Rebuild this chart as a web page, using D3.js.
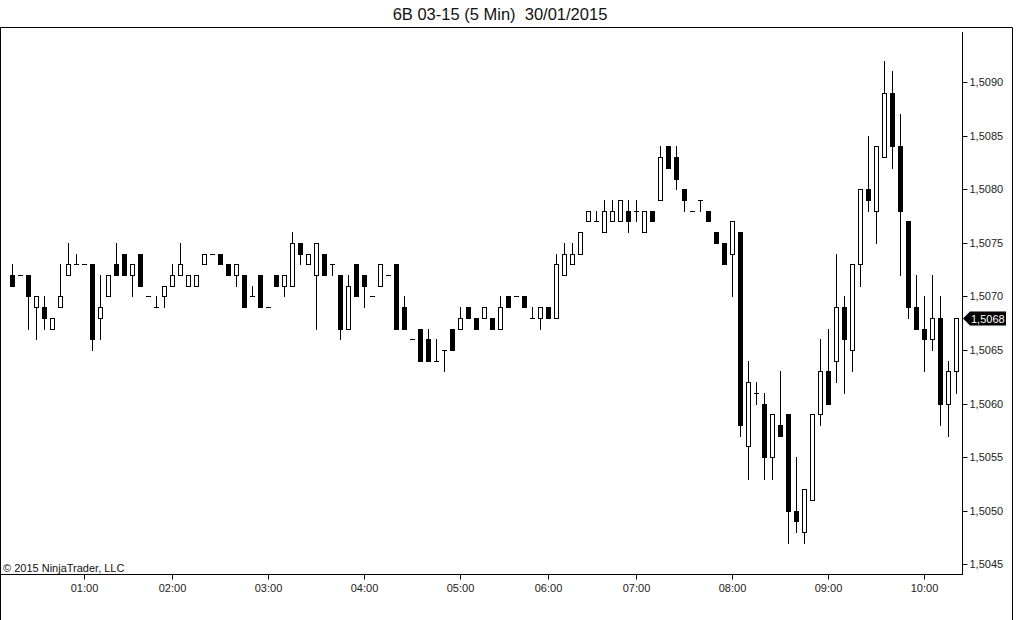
<!DOCTYPE html>
<html>
<head>
<meta charset="utf-8">
<script src="https://cdn.jsdelivr.net/npm/d3@7/dist/d3.min.js"></script>
<style>
html,body{margin:0;padding:0;background:#fff;}
svg{display:block;}
text{font-family:"Liberation Sans",Arial,sans-serif;}
</style>
</head>
<body>
<div id="chart"></div>
<script>
// ---- data ----
const title = "6B 03-15 (5 Min)  30/01/2015";
const copyright = "\u00A9 2015 NinjaTrader, LLC";
const times = [
"00:15","00:20","00:25","00:30","00:35","00:40","00:45","00:50","00:55","01:00",
"01:05","01:10","01:15","01:20","01:25","01:30","01:40","01:45","01:50","01:55","02:00",
"02:05","02:10","02:15","02:20","02:25","02:30","02:35","02:40","02:45","02:50","02:55","03:00",
"03:05","03:10","03:15","03:20","03:25","03:30","03:35","03:40","03:45","03:50","03:55","04:00",
"04:05","04:10","04:15","04:20","04:25","04:30","04:35","04:40","04:45","04:50","04:55","05:00",
"05:05","05:10","05:15","05:20","05:30","05:35","05:40","05:45","05:50","05:55","06:00",
"06:05","06:10","06:15","06:20","06:25","06:30","06:35","06:40","06:45","06:55","07:00",
"07:05","07:10","07:15","07:20","07:25","07:30","07:35","07:40","07:45","07:50","07:55","08:00",
"08:05","08:10","08:15","08:20","08:25","08:30","08:35","08:40","08:45","08:50","08:55","09:00",
"09:05","09:10","09:15","09:20","09:25","09:30","09:35","09:40","09:45","09:50","09:55","10:00",
"10:05","10:10","10:15","10:20"];
const open = [
1.5072,1.5072,1.5072,1.5069,1.5069,1.5067,1.5069,1.5072,1.5073,1.5073,
1.5073,1.5068,1.5070,1.5073,1.5074,1.5072,1.5074,1.5070,1.5069,1.5070,
1.5071,1.5072,1.5071,1.5071,1.5073,1.5074,1.5074,1.5073,1.5072,1.5072,
1.5070,1.5072,1.5069,1.5072,1.5071,1.5071,1.5075,1.5073,1.5072,1.5074,
1.5073,1.5072,1.5067,1.5073,1.5072,1.5070,1.5071,1.5072,1.5073,1.5069,
1.5066,1.5067,1.5066,1.5064,1.5065,1.5067,1.5067,1.5069,1.5068,1.5068,
1.5068,1.5067,1.5070,1.5070,1.5070,1.5068,1.5068,1.5069,1.5068,1.5072,
1.5073,1.5074,1.5077,1.5077,1.5076,1.5077,1.5077,1.5078,1.5078,1.5076,
1.5078,1.5079,1.5084,1.5083,1.5080,1.5078,1.5079,1.5078,1.5076,1.5075,
1.5074,1.5076,1.5056,1.5061,1.5060,1.5055,1.5058,1.5059,1.5050,1.5048,
1.5051,1.5059,1.5063,1.5064,1.5069,1.5065,1.5073,1.5080,1.5078,1.5083,
1.5089,1.5084,1.5077,1.5069,1.5067,1.5066,1.5068,1.5060,1.5063];
const high = [
1.5073,1.5072,1.5072,1.5070,1.5070,1.5068,1.5073,1.5075,1.5074,1.5073,
1.5073,1.5072,1.5072,1.5075,1.5074,1.5073,1.5074,1.5070,1.5070,1.5071,
1.5073,1.5075,1.5072,1.5072,1.5074,1.5074,1.5074,1.5073,1.5073,1.5072,
1.5071,1.5072,1.5069,1.5072,1.5072,1.5076,1.5075,1.5074,1.5075,1.5074,
1.5073,1.5072,1.5072,1.5073,1.5072,1.5070,1.5073,1.5072,1.5073,1.5070,
1.5066,1.5067,1.5067,1.5066,1.5065,1.5067,1.5069,1.5069,1.5068,1.5069,
1.5068,1.5070,1.5070,1.5070,1.5070,1.5069,1.5069,1.5069,1.5074,1.5075,
1.5075,1.5076,1.5078,1.5078,1.5079,1.5079,1.5079,1.5079,1.5079,1.5078,
1.5078,1.5084,1.5084,1.5084,1.5080,1.5078,1.5079,1.5078,1.5076,1.5075,
1.5077,1.5076,1.5064,1.5062,1.5061,1.5059,1.5063,1.5059,1.5055,1.5052,
1.5059,1.5066,1.5067,1.5074,1.5070,1.5073,1.5080,1.5085,1.5084,1.5092,
1.5091,1.5087,1.5077,1.5072,1.5070,1.5072,1.5070,1.5064,1.5068];
const low = [
1.5071,1.5072,1.5067,1.5066,1.5067,1.5067,1.5069,1.5072,1.5073,1.5073,
1.5065,1.5066,1.5070,1.5072,1.5072,1.5070,1.5071,1.5070,1.5069,1.5069,
1.5071,1.5072,1.5071,1.5071,1.5073,1.5074,1.5073,1.5072,1.5071,1.5069,
1.5070,1.5069,1.5069,1.5071,1.5070,1.5071,1.5073,1.5073,1.5067,1.5072,
1.5072,1.5066,1.5067,1.5070,1.5069,1.5070,1.5071,1.5072,1.5067,1.5067,
1.5066,1.5064,1.5064,1.5064,1.5063,1.5065,1.5067,1.5068,1.5067,1.5068,
1.5067,1.5067,1.5069,1.5070,1.5069,1.5068,1.5067,1.5068,1.5068,1.5072,
1.5073,1.5074,1.5077,1.5077,1.5076,1.5077,1.5077,1.5076,1.5077,1.5076,
1.5077,1.5079,1.5082,1.5080,1.5078,1.5078,1.5078,1.5077,1.5075,1.5073,
1.5070,1.5057,1.5053,1.5060,1.5053,1.5053,1.5057,1.5047,1.5048,1.5047,
1.5051,1.5058,1.5060,1.5062,1.5061,1.5063,1.5071,1.5078,1.5075,1.5083,
1.5082,1.5072,1.5068,1.5067,1.5063,1.5065,1.5058,1.5057,1.5061];
const close = [
1.5071,1.5072,1.5070,1.5070,1.5068,1.5068,1.5070,1.5073,1.5073,1.5073,
1.5066,1.5069,1.5072,1.5072,1.5072,1.5073,1.5071,1.5070,1.5069,1.5071,
1.5072,1.5073,1.5072,1.5072,1.5074,1.5074,1.5073,1.5072,1.5073,1.5069,
1.5070,1.5069,1.5069,1.5071,1.5072,1.5075,1.5074,1.5074,1.5075,1.5072,
1.5073,1.5067,1.5071,1.5070,1.5071,1.5070,1.5073,1.5072,1.5067,1.5067,
1.5066,1.5064,1.5064,1.5064,1.5065,1.5065,1.5068,1.5068,1.5067,1.5069,
1.5067,1.5069,1.5069,1.5070,1.5069,1.5068,1.5069,1.5068,1.5073,1.5074,
1.5074,1.5076,1.5078,1.5077,1.5078,1.5078,1.5079,1.5077,1.5078,1.5078,
1.5077,1.5083,1.5082,1.5081,1.5079,1.5078,1.5079,1.5077,1.5075,1.5073,
1.5077,1.5058,1.5062,1.5061,1.5055,1.5059,1.5057,1.5050,1.5049,1.5052,
1.5059,1.5063,1.5060,1.5069,1.5066,1.5073,1.5080,1.5079,1.5084,1.5089,
1.5084,1.5078,1.5069,1.5067,1.5066,1.5068,1.5060,1.5063,1.5068];
const yTickValues = [1.5045,1.5050,1.5055,1.5060,1.5065,1.5070,1.5075,1.5080,1.5085,1.5090];
const xTickLabels = ["01:00","02:00","03:00","04:00","05:00","06:00","07:00","08:00","09:00","10:00"];
const lastPrice = 1.5068;

// ---- layout ----
const W = 1016, H = 620;
const axisX = 962, axisY = 574;

const svg = d3.select("#chart").append("svg").attr("width", W).attr("height", H);
svg.append("rect").attr("width", W).attr("height", H).attr("fill", "#fff");

const x = d3.scalePoint().domain(times).range([12, 956]);
const y = d3.scaleLinear().domain([1.5045, 1.5090]).range([564.2, 82.2]);
const X = t => Math.round(x(t));
const Y = p => Math.round(y(p));

// frame
const frame = svg.append("g").attr("stroke", "#000").attr("stroke-width", 1).attr("fill", "none");
frame.append("path").attr("d", `M0.5,${H}V27.5H1012.5V${H}`);
frame.append("line").attr("x1", 0).attr("x2", axisX + 1).attr("y1", axisY + 0.5).attr("y2", axisY + 0.5);
frame.append("line").attr("x1", axisX + 0.5).attr("x2", axisX + 0.5).attr("y1", 32).attr("y2", axisY + 1);

// title
svg.append("text").attr("x", 500).attr("y", 20).attr("text-anchor", "middle")
  .attr("font-size", 16.5).attr("fill", "#111").style("white-space", "pre").attr("xml:space", "preserve").text(title);

// copyright
svg.append("text").attr("x", 3).attr("y", 572).attr("font-size", 11).attr("fill", "#111").text(copyright);

// y axis
const fmt = v => d3.format(".4f")(v).replace(".", ",");
const yAxis = d3.axisRight(y).tickValues(yTickValues).tickSize(5).tickPadding(2).tickFormat(fmt);
const gy = svg.append("g").attr("transform", `translate(${axisX + 0.5},0)`).call(yAxis);
gy.select(".domain").remove();
gy.selectAll(".tick").attr("transform", d => `translate(0,${Y(d) + 0.5})`);
gy.selectAll(".tick text").attr("font-size", 11).attr("font-family", '"Liberation Sans",Arial,sans-serif').attr("fill", "#222");

// x axis
const xAxis = d3.axisBottom(x).tickValues(xTickLabels).tickSize(5).tickPadding(5);
const gx = svg.append("g").attr("transform", `translate(0,${axisY + 0.5})`).call(xAxis);
gx.select(".domain").remove();
gx.selectAll(".tick").attr("transform", d => `translate(${X(d) + 0.5},0)`);
gx.selectAll(".tick text").attr("font-size", 11).attr("font-family", '"Liberation Sans",Arial,sans-serif').attr("fill", "#222");

// candles
const bars = times.map((t, i) => ({t, o: open[i], h: high[i], l: low[i], c: close[i]}));
const g = svg.append("g");
const cg = g.selectAll("g.c").data(bars).join("g").attr("class", "c");
cg.append("line")
  .attr("x1", d => X(d.t) + 0.5).attr("x2", d => X(d.t) + 0.5)
  .attr("y1", d => Y(d.h)).attr("y2", d => Y(d.l) + 1)
  .attr("stroke", "#000").attr("stroke-width", 1);
cg.each(function(d) {
  const s = d3.select(this);
  const cx = X(d.t);
  if (d.c < d.o) {
    s.append("rect").attr("x", cx - 2).attr("y", Y(d.o)).attr("width", 5)
      .attr("height", Y(d.c) - Y(d.o) + 1).attr("fill", "#000");
  } else if (d.c > d.o) {
    s.append("rect").attr("x", cx - 1.5).attr("y", Y(d.c) + 0.5).attr("width", 4)
      .attr("height", Y(d.o) - Y(d.c)).attr("fill", "#fff").attr("stroke", "#000").attr("stroke-width", 1);
  } else {
    s.append("rect").attr("x", cx - 2).attr("y", Y(d.o)).attr("width", 5).attr("height", 1).attr("fill", "#000");
  }
});

// last price marker
const py = Y(lastPrice) + 0.5;
svg.append("path")
  .attr("d", `M${axisX + 1},${py}L${axisX + 8},${py - 7}H1006V${py + 7}H${axisX + 8}Z`)
  .attr("fill", "#000");
svg.append("text").attr("x", axisX + 9).attr("y", py + 4).attr("font-size", 11).attr("fill", "#fff").text(fmt(lastPrice));
</script>
</body>
</html>
